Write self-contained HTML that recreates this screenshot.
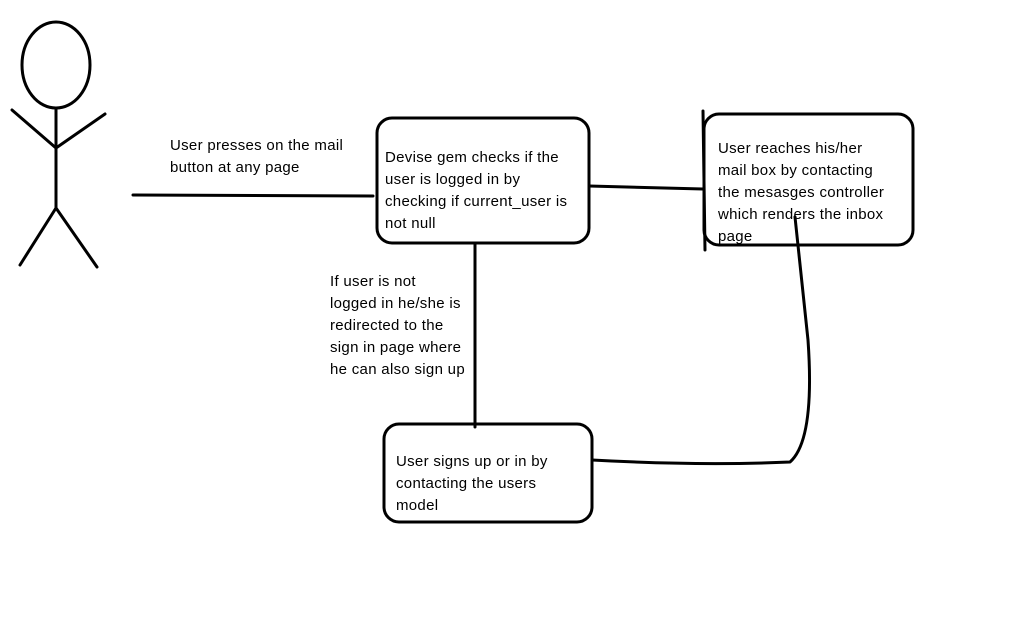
<!DOCTYPE html>
<html><head><style>
html,body{margin:0;padding:0;background:#fff;}
svg{display:block;}
text{font-family:"Liberation Sans",sans-serif;font-size:15px;letter-spacing:0.3px;fill:#000;}
</style></head><body>
<svg width="1018" height="638" viewBox="0 0 1018 638">
<g fill="none" stroke="#000" stroke-width="3" stroke-linecap="round" stroke-linejoin="round">
<ellipse cx="56" cy="65" rx="34" ry="43"/>
<line x1="56" y1="108" x2="56" y2="208"/>
<polyline points="12,110 56,148 105,114"/>
<polyline points="20,265 56,208 97,267"/>
<line x1="133" y1="195" x2="373" y2="196"/>
<rect x="377" y="118" width="212" height="125" rx="15"/>
<rect x="704" y="114" width="209" height="131" rx="15"/>
<line x1="703" y1="111" x2="705" y2="250"/>
<line x1="589" y1="186" x2="703" y2="189"/>
<line x1="475" y1="243" x2="475" y2="427"/>
<rect x="384" y="424" width="208" height="98" rx="15"/>
<path d="M592,460 Q700,466 790,462 Q815,440 808,340 L795,217"/>
</g>
<text x="170" y="150">User presses on the mail</text>
<text x="170" y="172">button at any page</text>
<text x="385" y="162">Devise gem checks if the</text>
<text x="385" y="184">user is logged in by</text>
<text x="385" y="206">checking if current_user is</text>
<text x="385" y="228">not null</text>
<text x="718" y="153">User reaches his/her</text>
<text x="718" y="175">mail box by contacting</text>
<text x="718" y="197">the mesasges controller</text>
<text x="718" y="219">which renders the inbox</text>
<text x="718" y="241">page</text>
<text x="330" y="286">If user is not</text>
<text x="330" y="308">logged in he/she is</text>
<text x="330" y="330">redirected to the</text>
<text x="330" y="352">sign in page where</text>
<text x="330" y="374">he can also sign up</text>
<text x="396" y="466">User signs up or in by</text>
<text x="396" y="488">contacting the users</text>
<text x="396" y="510">model</text>
</svg>
</body></html>
